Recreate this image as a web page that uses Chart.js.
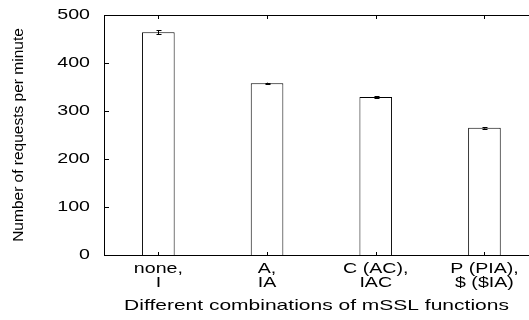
<!DOCTYPE html>
<html>
<head>
<meta charset="utf-8">
<script src="https://cdn.jsdelivr.net/npm/chart.js@4/dist/chart.umd.min.js"></script>
<style>
  html, body { margin: 0; padding: 0; background: #fff; }
  canvas { display: block; }
</style>
</head>
<body>
<canvas id="c" width="529" height="320"></canvas>
<script>
// ---- data ----
const categories = [["none,", "I"], ["A,", "IA"], ["C (AC),", "IAC"], ["P (PIA),", "$ ($IA)"]];
const requestsPerMinute = [464, 358, 329, 265];
const errorMargins = [4, 1, 1.5, 1.5];
const yTicks = [0, 100, 200, 300, 400, 500];

// horizontal stretch of upright text (the reference figure is stretched sideways)
const STRETCH = 1.4;
const canvas = document.getElementById('c');
const ctx = canvas.getContext('2d');
const origFill = ctx.fillText.bind(ctx);
const origMeasure = ctx.measureText.bind(ctx);
function rotated() { const m = ctx.getTransform(); return Math.abs(m.b) > 1e-6 || Math.abs(m.c) > 1e-6; }
ctx.fillText = function (t, x, y, maxW) {
  if (rotated()) return maxW === undefined ? origFill(t, x, y) : origFill(t, x, y, maxW);
  ctx.save();
  ctx.translate(x, y);
  ctx.scale(STRETCH, 1);
  if (maxW === undefined) origFill(t, 0, 0); else origFill(t, 0, 0, maxW / STRETCH);
  ctx.restore();
};
ctx.measureText = function (t) {
  const r = origMeasure(t);
  if (rotated()) return r;
  return { width: r.width * STRETCH, actualBoundingBoxAscent: r.actualBoundingBoxAscent, actualBoundingBoxDescent: r.actualBoundingBoxDescent };
};

const frame = {
  id: 'frame',
  afterDraw(chart) {
    const { ctx, chartArea: a, scales: { x, y } } = chart;
    ctx.save();
    ctx.strokeStyle = '#000';
    ctx.lineWidth = 1;
    ctx.beginPath();
    // top border
    ctx.moveTo(a.left, a.top + 0.5); ctx.lineTo(a.right, a.top + 0.5);
    // inward y ticks
    y.ticks.forEach(t => {
      const py = Math.round(y.getPixelForValue(t.value)) + 0.5;
      ctx.moveTo(a.left, py); ctx.lineTo(a.left + 5, py);
    });
    // inward x ticks (bottom and mirrored top)
    x.ticks.forEach(t => {
      const px = Math.round(x.getPixelForValue(t.value)) + 0.5;
      ctx.moveTo(px, a.bottom); ctx.lineTo(px, a.bottom - 3);
      ctx.moveTo(px, a.top); ctx.lineTo(px, a.top + 4);
    });
    ctx.stroke();
    // error bars
    ctx.beginPath();
    requestsPerMinute.forEach((v, i) => {
      const px = Math.round(x.getPixelForValue(i)) + 0.5;
      const yHi = y.getPixelForValue(v + errorMargins[i]);
      const yLo = y.getPixelForValue(v - errorMargins[i]);
      ctx.moveTo(px, yHi); ctx.lineTo(px, yLo);
      ctx.moveTo(px - 2, Math.round(yHi) + 0.5); ctx.lineTo(px + 3, Math.round(yHi) + 0.5);
      ctx.moveTo(px - 2, Math.round(yLo) + 0.5); ctx.lineTo(px + 3, Math.round(yLo) + 0.5);
    });
    ctx.stroke();
    ctx.restore();
  }
};

new Chart(ctx, {
  type: 'bar',
  data: {
    datasets: [{
      data: requestsPerMinute.map((v, i) => ({ x: i, y: v })),
      backgroundColor: '#ffffff',
      borderColor: '#000000',
      borderWidth: 1,
      categoryPercentage: 1,
      barPercentage: 0.3
    }]
  },
  options: {
    responsive: false,
    devicePixelRatio: 1,
    animation: false,
    layout: { padding: { top: 15, right: 0, left: 0, bottom: 0 } },
    plugins: { legend: { display: false }, tooltip: { enabled: false } },
    scales: {
      x: {
        type: 'linear',
        offset: false,
        min: -0.5,
        max: 3.41,
        grid: { display: false, drawTicks: false },
        border: { display: true, color: '#000', width: 1 },
        afterBuildTicks: s => { s.ticks = categories.map((c, i) => ({ value: i })); },
        afterFit: s => { s.height = 65; s.paddingLeft = 0; s.paddingRight = 0; },
        ticks: {
          autoSkip: false,
          maxRotation: 0,
          padding: 7,
          color: '#000',
          font: { family: 'Liberation Sans', size: 14, lineHeight: 1.0 },
          callback: v => categories[v]
        },
        title: {
          display: true,
          text: 'Different combinations of mSSL functions',
          color: '#000',
          font: { family: 'Liberation Sans', size: 15, lineHeight: 1.2 },
          padding: { top: 4, bottom: 5 }
        }
      },
      y: {
        min: 0,
        max: 500,
        grid: { display: false, drawTicks: false },
        border: { display: true, color: '#000', width: 1 },
        afterBuildTicks: s => { s.ticks = yTicks.map(v => ({ value: v })); },
        afterFit: s => { s.width = 104; s.paddingTop = 0; s.paddingBottom = 0; },
        ticks: {
          padding: 14,
          color: '#000',
          font: { family: 'Liberation Sans', size: 14 }
        },
        title: {
          display: true,
          text: 'Number of requests per minute',
          color: '#000',
          font: { family: 'Liberation Sans', size: 15.5, lineHeight: 1.2 },
          padding: { top: 9, bottom: 0 }
        }
      }
    }
  },
  plugins: [frame]
});
</script>
</body>
</html>
